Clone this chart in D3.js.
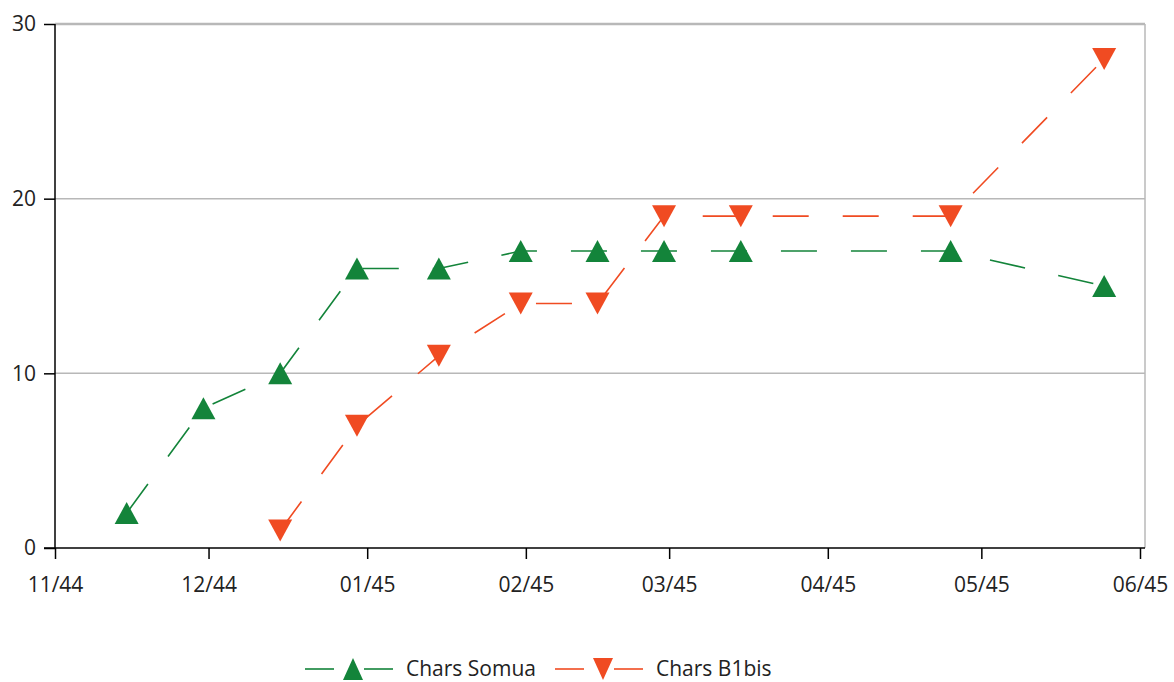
<!DOCTYPE html>
<html>
<head>
<meta charset="utf-8">
<script src="https://cdn.jsdelivr.net/npm/d3@7"></script>
<style>
  body { margin: 0; background: #fff; }
  text { font-family: "Open Sans", "Noto Sans", sans-serif; fill: #222; }
</style>
</head>
<body>
<div id="chart-container"></div>
<script>
// Data
var somuaDates = ["1944-11-15", "1944-11-30", "1944-12-15", "1944-12-30", "1945-01-15",
    "1945-01-31", "1945-02-15", "1945-02-28", "1945-03-15", "1945-04-25", "1945-05-25"];
var somuaValues = [2, 8, 10, 16, 16, 17, 17, 17, 17, 17, 15];

var b1bisDates = ["1944-12-15", "1944-12-30", "1945-01-15", "1945-01-31", "1945-02-15",
    "1945-02-28", "1945-03-15", "1945-04-25", "1945-05-25"];
var b1bisValues = [1, 7, 11, 14, 14, 19, 19, 19, 28];

var seriesNames = ["Chars Somua", "Chars B1bis"];
var yTicks = [0, 10, 20, 30];

var parseDate = d3.timeParse("%Y-%m-%d");
var somua = somuaDates.map(function(d, i) { return { date: parseDate(d), value: somuaValues[i] }; });
var b1bis = b1bisDates.map(function(d, i) { return { date: parseDate(d), value: b1bisValues[i] }; });

var green = "#13843a";
var orange = "#f04b22";

// Set up margins and dimensions
var margin = { top: 24, right: 29, bottom: 134, left: 55 };
var fullWidth = 1174, fullHeight = 682;
var width = 1140 - margin.left;   // 06/45 tick
var height = fullHeight - margin.top - margin.bottom;

var svg = d3.select("#chart-container")
    .append("svg")
    .attr("width", fullWidth)
    .attr("height", fullHeight)
    .append("g")
    .attr("transform", "translate(" + margin.left + "," + margin.top + ")");

var xScale = d3.scaleTime()
    .domain([new Date(1944, 10, 1), new Date(1945, 5, 1)])
    .range([0, width]);

var yScale = d3.scaleLinear()
    .domain([0, 30])
    .range([height, 0]);

var plotRight = width + 5;

// Gridlines
svg.selectAll(".grid")
    .data(yTicks.filter(function(d) { return d > 0; }))
    .enter().append("line")
    .attr("x1", 0)
    .attr("x2", plotRight)
    .attr("y1", d => yScale(d))
    .attr("y2", d => yScale(d))
    .attr("stroke", "#b8b8b8")
    .attr("stroke-width", d => d === 30 ? 2.5 : 1.5);

// Right border
svg.append("line")
    .attr("x1", plotRight).attr("x2", plotRight)
    .attr("y1", yScale(30)).attr("y2", yScale(0))
    .attr("stroke", "#b8b8b8")
    .attr("stroke-width", 1.5);

// Axes
var xAxis = d3.axisBottom(xScale)
    .ticks(d3.timeMonth.every(1))
    .tickFormat(d3.timeFormat("%m/%y"))
    .tickSize(11)
    .tickPadding(18);

var yAxis = d3.axisLeft(yScale)
    .tickValues(yTicks)
    .tickSize(11)
    .tickPadding(8);

var gx = svg.append("g")
    .attr("transform", "translate(0," + height + ")")
    .call(xAxis);
gx.select(".domain").attr("d", "M-11,0H" + plotRight).attr("stroke", "#000").attr("stroke-width", 1.5);
gx.selectAll(".tick line").attr("stroke", "#000").attr("stroke-width", 1.5);
gx.selectAll(".tick text").style("font-size", "21px").attr("fill", "#222");

var gy = svg.append("g").call(yAxis);
gy.select(".domain").attr("d", "M0," + height + "V0").attr("stroke", "#000").attr("stroke-width", 1.5);
gy.selectAll(".tick line").attr("stroke", "#000").attr("stroke-width", 1.5);
gy.selectAll(".tick text").style("font-size", "21px").attr("fill", "#222");

// Lines
var line = d3.line()
    .x(d => xScale(d.date))
    .y(d => yScale(d.value));

function triangle(up, w, h) {
    return up
        ? "M0," + (-h) + "L" + w + "," + h + "L" + (-w) + "," + h + "Z"
        : "M0," + h + "L" + w + "," + (-h) + "L" + (-w) + "," + (-h) + "Z";
}

function drawSeries(data, color, up) {
    svg.append("path")
        .datum(data)
        .attr("fill", "none")
        .attr("stroke", color)
        .attr("stroke-width", 1.6)
        .attr("stroke-dasharray", "36,34")
        .attr("d", line);

    svg.selectAll(null)
        .data(data)
        .enter().append("path")
        .attr("d", triangle(up, 12, 11))
        .attr("fill", color)
        .attr("transform", d => "translate(" + xScale(d.date) + "," + yScale(d.value) + ")");
}

drawSeries(b1bis, orange, false);
drawSeries(somua, green, true);

// Legend
var legend = svg.append("g")
    .attr("transform", "translate(0," + (669 - margin.top) + ")");

var legendItems = [
    { name: seriesNames[0], color: green, up: true, x: 305 },
    { name: seriesNames[1], color: orange, up: false, x: 555 }
];

legendItems.forEach(function(item) {
    var g = legend.append("g").attr("transform", "translate(" + (item.x - margin.left) + ",0)");
    g.append("line")
        .attr("x1", 0).attr("x2", 29)
        .attr("stroke", item.color).attr("stroke-width", 1.6);
    g.append("line")
        .attr("x1", 59).attr("x2", 88)
        .attr("stroke", item.color).attr("stroke-width", 1.6);
    g.append("path")
        .attr("d", triangle(item.up, 10, 11))
        .attr("fill", item.color)
        .attr("transform", "translate(48,0)");
    g.append("text")
        .attr("x", 101)
        .attr("dy", "0.35em")
        .style("font-size", "21px")
        .text(item.name);
});
</script>
</body>
</html>
